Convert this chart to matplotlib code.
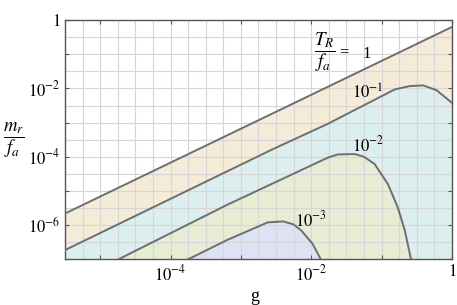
import numpy as np
import matplotlib
matplotlib.use('Agg')
import matplotlib.pyplot as plt
from matplotlib.ticker import FixedLocator, FuncFormatter

plt.rcParams['font.family'] = 'serif'
plt.rcParams['font.serif'] = ['Liberation Serif', 'DejaVu Serif']
plt.rcParams['mathtext.fontset'] = 'stix'

# contour lines of T_R/f_a, given as log10(g) and log10(m_r/f_a)
lg_1 = [-5.5, 0.0]
lm_1 = [-5.66, -0.2]

lg_01 = [-5.5, -2.57, -1.76, -0.815, -0.6, -0.41, -0.22, 0.0]
lm_01 = [-6.73, -3.80, -3.03, -2.03, -1.93, -1.91, -2.05, -2.42]

lg_001 = [-4.74, -3.19, -1.76, -1.62, -1.38, -1.25, -1.10, -0.91, -0.77, -0.67, -0.58]
lm_001 = [-7.0, -5.40, -4.02, -3.93, -3.92, -4.0, -4.21, -4.80, -5.48, -6.16, -7.02]

lg_0001 = [-3.75, -3.19, -2.62, -2.40, -2.25, -2.14, -1.98, -1.86]
lm_0001 = [-7.0, -6.43, -5.92, -5.89, -5.98, -6.16, -6.55, -7.02]

kontury = [
    (lg_1, lm_1, '#f4ebd9'),
    (lg_01, lm_01, '#dcefee'),
    (lg_001, lm_001, '#e7ecd4'),
    (lg_0001, lm_0001, '#dde3f4'),
]

fig = plt.figure(figsize=(4.57, 3.05), dpi=100)
ax = fig.add_axes([0.1422, 0.1498, 0.8468, 0.7842])
ax.set_xscale('log')
ax.set_yscale('log')
ymin = 1e-7

for lg, lm, barva in kontury:
    g = 10 ** np.array(lg)
    m = 10 ** np.array(lm)
    ax.fill_between(g, m, ymin, color=barva, linewidth=0, zorder=1)
    ax.plot(g, m, color='#6e6e6e', linewidth=1.4, zorder=3)

ax.set_xlim(10 ** -5.5, 1)
ax.set_ylim(ymin, 1)

# ticks at every decade, labels only on even ones
ax.xaxis.set_major_locator(FixedLocator(10.0 ** np.arange(-5, 1)))
ax.yaxis.set_major_locator(FixedLocator(10.0 ** np.arange(-7, 1)))
ax.xaxis.set_minor_locator(FixedLocator(10 ** np.arange(-5.5, 0.01, 0.25)))
ax.yaxis.set_minor_locator(FixedLocator(10 ** np.arange(-7, 0.01, 0.5)))


def oznaka(v, pos):
    e = int(round(np.log10(v)))
    if e % 2:
        return ''
    if e == 0:
        return '$1$'
    return r'$10^{%d}$' % e


ax.xaxis.set_major_formatter(FuncFormatter(oznaka))
ax.yaxis.set_major_formatter(FuncFormatter(oznaka))
ax.tick_params(which='major', direction='in', length=3, width=0.8,
               top=True, right=True, labelsize=12, colors='#555555',
               labelcolor='black')
ax.tick_params(which='minor', length=0, top=True, right=True)

ax.set_axisbelow('line')
ax.grid(True, which='both', color='#d6d6d6', linewidth=0.8, zorder=2)
for s in ax.spines.values():
    s.set_color('#555555')
    s.set_linewidth(1.0)

ax.set_xlabel('g', fontsize=13)
ax.xaxis.set_label_coords(0.49, -0.12)
fig.text(0.031, 0.54, r'$\dfrac{m_r}{f_a}$', fontsize=13.5, ha='center', va='center')

# contour labels
ax.text(10 ** -1.81, 10 ** -0.94, r'$\dfrac{T_R}{f_a}$', fontsize=13.5,
        ha='center', va='center')
ax.text(10 ** -1.54, 10 ** -0.94, '=', fontsize=12, ha='center', va='center')
ax.text(10 ** -1.21, 10 ** -0.99, '1', fontsize=12, ha='center', va='center')
ax.text(10 ** -1.19, 10 ** -2.15, r'$10^{-1}$', fontsize=12, ha='center', va='center')
ax.text(10 ** -1.19, 10 ** -3.68, r'$10^{-2}$', fontsize=12, ha='center', va='center')
ax.text(10 ** -2.0, 10 ** -5.87, r'$10^{-3}$', fontsize=12, ha='center', va='center')

fig.savefig('out.png', dpi=100)
